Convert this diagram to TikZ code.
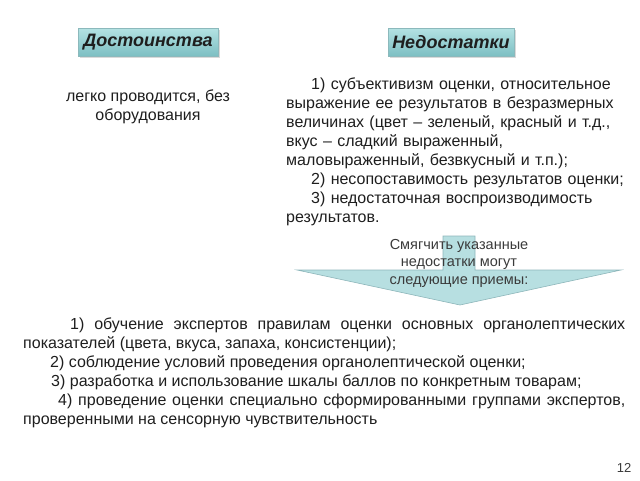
\documentclass[tikz,border=0pt]{standalone}
\usepackage{fontspec}
\setmainfont{Liberation Sans}
\usetikzlibrary{positioning}
\usetikzlibrary{shadows}

\definecolor{headtop}{HTML}{B4E2E3}
\definecolor{headbot}{HTML}{7DBFC3}
\definecolor{headline}{HTML}{8CB9BC}
\definecolor{arrowfill}{HTML}{B7DFE1}
\definecolor{arrowline}{HTML}{8DB6BA}
\definecolor{maintext}{HTML}{1E1E1E}
\definecolor{softtext}{HTML}{3A3A3A}

\tikzset{
  headbox/.style={minimum height=28pt, inner sep=0pt, top color=headtop,
    bottom color=headbot, draw=headline, line width=0.4pt, text=maintext,
    font=\bfseries\itshape\fontsize{18}{20}\selectfont,
    drop shadow={opacity=0.3, shadow xshift=2pt, shadow yshift=-2pt}},
  plaintext/.style={text=maintext, inner sep=0pt,
    font=\fontsize{16}{19}\selectfont},
  arrowshape/.style={fill=arrowfill, draw=arrowline, line width=0.6pt,
    line join=miter},
}

\begin{document}
\begin{tikzpicture}[x=1pt, y=-1pt]
    \useasboundingbox (0,0) rectangle (640,480);

    \node[headbox, minimum width=140pt] (pros) at (148,42) {Достоинства};
    \node[headbox, minimum width=126pt] (cons) at (451,42) {Недостатки};

    \node[plaintext, align=center, below=33pt of pros] (prostext)
      {легко проводится, без\\оборудования};

    \node[plaintext, align=left, text width=345pt, anchor=north west]
      (constext) at (286,78)
      {\hspace*{25pt}1) субъективизм оценки, относительное\\
       выражение ее результатов в безразмерных\\
       величинах (цвет – зеленый, красный и т.д.,\\
       вкус – сладкий выраженный,\\
       маловыраженный, безвкусный и т.п.);\\
       \hspace*{25pt}2) несопоставимость результатов оценки;\\
       \hspace*{25pt}3) недостаточная воспроизводимость\\
       результатов.};

    % arrow
    \draw[arrowshape] (443,236) -- (475,236) -- (475,270) -- (621,270)
      -- (460,305) -- (297,270) -- (443,270) -- cycle;
    \node[text=softtext, align=center, inner sep=0pt,
      font=\fontsize{14.5}{17.5}\selectfont] (hint) at (459,263)
      {Смягчить указанные\\недостатки могут\\следующие приемы:};

    \node[plaintext, align=justify, text width=602pt, anchor=north west]
      (ways) at (23,318)
      {\hspace*{47pt}1) обучение экспертов правилам оценки основных органолептических\linebreak
       показателей (цвета, вкуса, запаха, консистенции);\\
       \hspace*{27pt}2) соблюдение условий проведения органолептической оценки;\\
       \hspace*{28pt}3) разработка и использование шкалы баллов по конкретным товарам;\\
       \hspace*{35pt}4) проведение оценки специально сформированными группами экспертов,\linebreak
       проверенными на сенсорную чувствительность};

    \node[text=softtext, inner sep=0pt, font=\fontsize{13}{15}\selectfont]
      (pagenum) at (624,468) {12};
\end{tikzpicture}
\end{document}
